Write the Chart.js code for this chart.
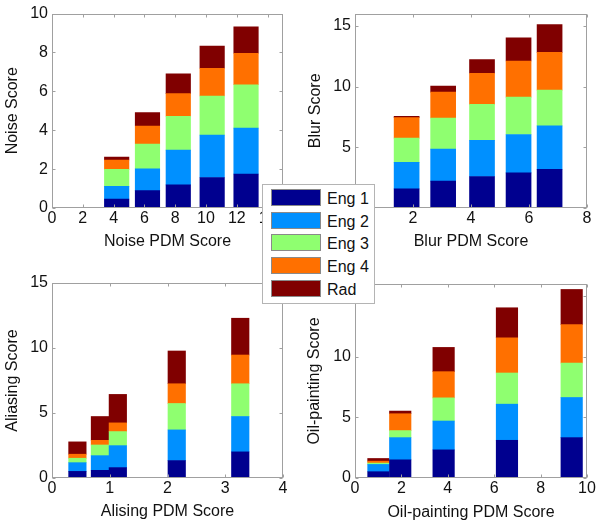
<!DOCTYPE html>
<html>
<head>
<meta charset="utf-8">
<script src="https://cdn.jsdelivr.net/npm/chart.js@4/dist/chart.umd.min.js"></script>
<style>
  body { margin: 0; background: #fff; }
  #wrap { position: relative; width: 601px; height: 526px; font-family: "Liberation Sans", Arial, sans-serif; }
  canvas { position: absolute; }
  #legend { position: absolute; left: 262px; top: 184px; width: 111px; height: 118px;
            background: #fff; border: 1px solid #b4b4b4; z-index: 5; }
  .row { position: absolute; left: 8px; height: 17px; }
  .sw { position: absolute; left: 0; top: 0; width: 48px; height: 15px; border: 1px solid #8a8a8a; }
  .lb { position: absolute; left: 56px; top: 0px; font-size: 16px; line-height: 19px; color: #111; white-space: nowrap; }
</style>
</head>
<body>
<div id="wrap">
  <canvas id="noise" width="300" height="263" style="left:0;top:0"></canvas>
  <canvas id="blur" width="301" height="263" style="left:300px;top:0"></canvas>
  <canvas id="alias" width="300" height="263" style="left:0;top:263px"></canvas>
  <canvas id="oil" width="301" height="263" style="left:300px;top:263px"></canvas>
  <div id="legend"></div>
</div>
<script>
var seriesNames = ["Eng 1", "Eng 2", "Eng 3", "Eng 4", "Rad"];
var seriesColors = ["#00008f", "#0090ff", "#8fff70", "#ff7000", "#800000"];

// Noise
var noiseX = [4.2, 6.2, 8.2, 10.4, 12.6];
var noiseEng1 = [0.46, 0.89, 1.19, 1.57, 1.75];
var noiseEng2 = [0.65, 1.12, 1.79, 2.18, 2.36];
var noiseEng3 = [0.88, 1.28, 1.74, 2.01, 2.23];
var noiseEng4 = [0.48, 0.93, 1.16, 1.43, 1.62];
var noiseRad  = [0.15, 0.69, 1.02, 1.14, 1.36];
var noiseXTicks = [0, 2, 4, 6, 8, 10, 12, 14];
var noiseYTicks = [0, 2, 4, 6, 8, 10];

// Blur
var blurX = [1.78, 3.04, 4.38, 5.64, 6.71];
var blurEng1 = [1.58, 2.21, 2.59, 2.89, 3.19];
var blurEng2 = [2.18, 2.64, 2.97, 3.16, 3.57];
var blurEng3 = [1.99, 2.56, 2.97, 3.08, 2.94];
var blurEng4 = [1.69, 2.13, 2.56, 2.97, 3.11];
var blurRad  = [0.11, 0.49, 1.12, 1.90, 2.29];
var blurXTicks = [0, 2, 4, 6, 8];
var blurYTicks = [0, 5, 10, 15];

// Aliasing
var aliasX = [0.44, 0.83, 1.14, 2.16, 3.26];
var aliasEng1 = [0.51, 0.59, 0.80, 1.34, 2.01];
var aliasEng2 = [0.67, 1.13, 1.69, 2.36, 2.72];
var aliasEng3 = [0.34, 0.82, 1.08, 2.03, 2.52];
var aliasEng4 = [0.31, 0.36, 0.67, 1.52, 2.21];
var aliasRad  = [0.95, 1.83, 2.19, 2.52, 2.83];
var aliasXTicks = [0, 1, 2, 3, 4];
var aliasYTicks = [0, 5, 10, 15];

// Oil-painting
var oilX = [1.01, 1.95, 3.82, 6.55, 9.34];
var oilEng1 = [0.52, 1.50, 2.32, 3.11, 3.33];
var oilEng2 = [0.60, 1.83, 2.38, 2.98, 3.31];
var oilEng3 = [0.11, 0.58, 1.91, 2.57, 2.84];
var oilEng4 = [0.16, 1.39, 2.16, 2.90, 3.17];
var oilRad  = [0.22, 0.22, 2.00, 2.48, 2.90];
var oilXTicks = [0, 2, 4, 6, 8, 10];
var oilYTicks = [0, 5, 10, 15];

var font16 = { family: "'Liberation Sans', Arial, sans-serif", size: 16 };

// box round the plot with little inward ticks, like the original
var boxPlugin = {
  id: 'box',
  afterDraw: function(chart) {
    var ctx = chart.ctx, a = chart.chartArea, xs = chart.scales.x, ys = chart.scales.y;
    var L = Math.round(a.left) + 0.5, R = Math.round(a.right) - 0.5;
    var T = Math.round(a.top) + 0.5, B = Math.round(a.bottom) - 0.5;
    ctx.save();
    ctx.strokeStyle = '#a0a0a0';
    ctx.lineWidth = 1;
    ctx.strokeRect(L, T, R - L, B - T);
    ctx.beginPath();
    xs.ticks.forEach(function(t) {
      var p = Math.round(xs.getPixelForValue(t.value)) + 0.5;
      ctx.moveTo(p, B); ctx.lineTo(p, B - 3);
      ctx.moveTo(p, T); ctx.lineTo(p, T + 3);
    });
    ys.ticks.forEach(function(t) {
      var p = Math.round(ys.getPixelForValue(t.value)) + 0.5;
      ctx.moveTo(L, p); ctx.lineTo(L + 3, p);
      ctx.moveTo(R, p); ctx.lineTo(R - 3, p);
    });
    ctx.stroke();
    ctx.restore();
  }
};

function makePanel(id, p) {
  var datasets = p.series.map(function(vals, i) {
    return {
      label: seriesNames[i],
      data: vals.map(function(v, j) { return { x: p.xs[j], y: v }; }),
      backgroundColor: seriesColors[i],
      borderWidth: 0,
      barThickness: p.bar
    };
  });
  return new Chart(document.getElementById(id), {
    type: 'bar',
    data: { datasets: datasets },
    plugins: [boxPlugin],
    options: {
      responsive: false,
      animation: false,
      devicePixelRatio: 1,
      layout: { padding: { left: 0, top: p.top, right: p.right, bottom: 0 } },
      plugins: { legend: { display: false }, tooltip: { enabled: false } },
      scales: {
        x: {
          type: 'linear', stacked: true, offset: false,
          min: p.xmin, max: p.xmax,
          afterBuildTicks: function(s) { s.ticks = p.xticks.map(function(v) { return { value: v }; }); },
          afterFit: function(s) { s.height = p.xh; },
          grid: { display: false, drawTicks: false },
          border: { display: false },
          ticks: { font: font16, color: '#111', padding: 1, maxRotation: 0 },
          title: { display: true, text: p.xtitle, font: font16, color: '#111', padding: { top: 0, bottom: p.xtpad } }
        },
        y: {
          type: 'linear', stacked: true,
          min: 0, max: p.ymax,
          afterBuildTicks: function(s) { s.ticks = p.yticks.map(function(v) { return { value: v }; }); },
          afterFit: function(s) { s.width = p.yw; },
          grid: { display: false, drawTicks: false },
          border: { display: false },
          ticks: { font: font16, color: '#111', padding: 4 },
          title: { display: true, text: p.ytitle, font: font16, color: '#111', padding: { top: p.ytpad, bottom: 0 } }
        }
      }
    }
  });
}

makePanel('noise', {
  xs: noiseX, series: [noiseEng1, noiseEng2, noiseEng3, noiseEng4, noiseRad],
  xmin: 0, xmax: 15, ymax: 10, xticks: noiseXTicks, yticks: noiseYTicks,
  xtitle: 'Noise PDM Score', ytitle: 'Noise Score',
  bar: 24.5, top: 13, right: 17, yw: 52, xh: 55, xtpad: 12, ytpad: 3
});
makePanel('blur', {
  xs: blurX, series: [blurEng1, blurEng2, blurEng3, blurEng4, blurRad],
  xmin: 0, xmax: 8, ymax: 16, xticks: blurXTicks, yticks: blurYTicks,
  xtitle: 'Blur PDM Score', ytitle: 'Blur Score',
  bar: 25, top: 13, right: 14, yw: 55, xh: 55, xtpad: 12, ytpad: 6
});
makePanel('alias', {
  xs: aliasX, series: [aliasEng1, aliasEng2, aliasEng3, aliasEng4, aliasRad],
  xmin: 0, xmax: 4, ymax: 15, xticks: aliasXTicks, yticks: aliasYTicks,
  xtitle: 'Alising PDM Score', ytitle: 'Aliasing Score',
  bar: 17.5, top: 20, right: 17, yw: 52, xh: 48, xtpad: 5, ytpad: 3
});
makePanel('oil', {
  xs: oilX, series: [oilEng1, oilEng2, oilEng3, oilEng4, oilRad],
  xmin: 0, xmax: 10, ymax: 16, xticks: oilXTicks, yticks: oilYTicks,
  xtitle: 'Oil-painting PDM Score', ytitle: 'Oil-painting Score',
  bar: 21.5, top: 21, right: 14, yw: 55, xh: 48, xtpad: 4, ytpad: 5
});

// shared legend in the middle of the figure
var legend = document.getElementById('legend');
seriesNames.forEach(function(name, i) {
  var row = document.createElement('div');
  row.className = 'row';
  row.style.top = (4 + i * 22.7) + 'px';
  row.innerHTML = '<div class="sw" style="background:' + seriesColors[i] + '"></div><div class="lb">' + name + '</div>';
  legend.appendChild(row);
});
</script>
</body>
</html>
